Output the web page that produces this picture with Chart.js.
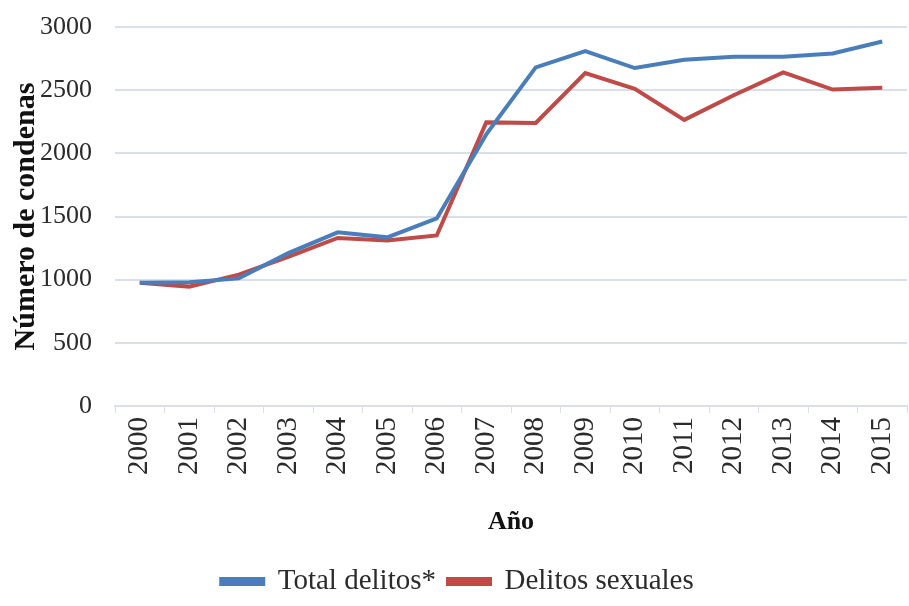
<!DOCTYPE html>
<html>
<head>
<meta charset="utf-8">
<script src="https://cdn.jsdelivr.net/npm/chart.js@4/dist/chart.umd.min.js"></script>
<style>
  html, body { margin: 0; padding: 0; background: #fff; }
  #wrap { width: 909px; height: 606px; position: relative; }
</style>
</head>
<body>
<div id="wrap"><canvas id="chart"></canvas></div>
<script>
// --- Data ---
const years = ['2000', '2001', '2002', '2003', '2004', '2005', '2006', '2007',
               '2008', '2009', '2010', '2011', '2012', '2013', '2014', '2015'];
const totalDelitos = [975, 980, 1010, 1210, 1375, 1335, 1485, 2150,
                      2680, 2810, 2675, 2740, 2765, 2765, 2790, 2885];
const delitosSexuales = [975, 945, 1040, 1180, 1330, 1310, 1350, 2245,
                         2240, 2635, 2510, 2265, 2460, 2640, 2505, 2520];
const yTicks = [0, 500, 1000, 1500, 2000, 2500, 3000];

// --- Style tokens ---
const COLORS = {
    blue: '#4a7ebb',
    red: '#be4b48',
    grid: '#dae0e9',
    text: '#2b2b2b',
};
const SERIF = "'Liberation Serif', 'Times New Roman', serif";

const ctx = document.getElementById('chart').getContext('2d');

new Chart(ctx, {
    type: 'line',
    data: {
        labels: years,
        datasets: [
            {
                label: 'Total delitos*',
                data: totalDelitos,
                borderColor: COLORS.blue,
                backgroundColor: COLORS.blue,
                borderWidth: 4,
                pointRadius: 0,
                tension: 0,
            },
            {
                label: 'Delitos sexuales',
                data: delitosSexuales,
                borderColor: COLORS.red,
                backgroundColor: COLORS.red,
                borderWidth: 4,
                pointRadius: 0,
                tension: 0,
            }
        ]
    },
    options: {
        responsive: true,
        maintainAspectRatio: false,
        animation: false,
        layout: { padding: { top: 27, right: 2, left: 8, bottom: 0 } },
        scales: {
            x: {
                offset: true,
                afterFit: scale => {
                    scale.height = 149;
                    // let the plot run to the right edge like the original
                    scale.paddingRight = 0;
                    scale.paddingLeft = 0;
                },
                grid: {
                    offset: true,
                    drawOnChartArea: false,
                    drawTicks: true,
                    tickLength: 7,
                    color: COLORS.grid,
                },
                border: { display: true, color: COLORS.grid, width: 2 },
                ticks: {
                    color: COLORS.text,
                    font: { family: SERIF, size: 29 },
                    minRotation: 90,
                    maxRotation: 90,
                    padding: 4,
                },
                title: {
                    display: true,
                    text: 'Año',
                    color: '#111',
                    font: { family: SERIF, size: 26, weight: 'bold' },
                    padding: { top: 10, bottom: 17 },
                },
            },
            y: {
                min: 0,
                max: 3000,
                afterBuildTicks: scale => {
                    scale.ticks = yTicks.map(v => ({ value: v }));
                },
                afterFit: scale => {
                    scale.width = 107;
                    scale.paddingTop = 0;
                    scale.paddingBottom = 0;
                },
                grid: {
                    color: COLORS.grid,
                    lineWidth: 2,
                    drawTicks: false,
                },
                border: { display: false },
                ticks: {
                    color: COLORS.text,
                    font: { family: SERIF, size: 26 },
                    padding: 23,
                    callback: v => String(v),
                },
                title: {
                    display: true,
                    text: 'Número de condenas',
                    color: '#111',
                    font: { family: SERIF, size: 30, weight: 'bold' },
                    padding: { top: 0, bottom: 2 },
                },
            }
        },
        plugins: {
            legend: {
                position: 'bottom',
                labels: {
                    color: COLORS.text,
                    font: { family: SERIF, size: 29 },
                    boxWidth: 42,
                    boxHeight: 5,
                    padding: 12,
                },
            },
            tooltip: { enabled: false },
        }
    }
});
</script>
</body>
</html>
